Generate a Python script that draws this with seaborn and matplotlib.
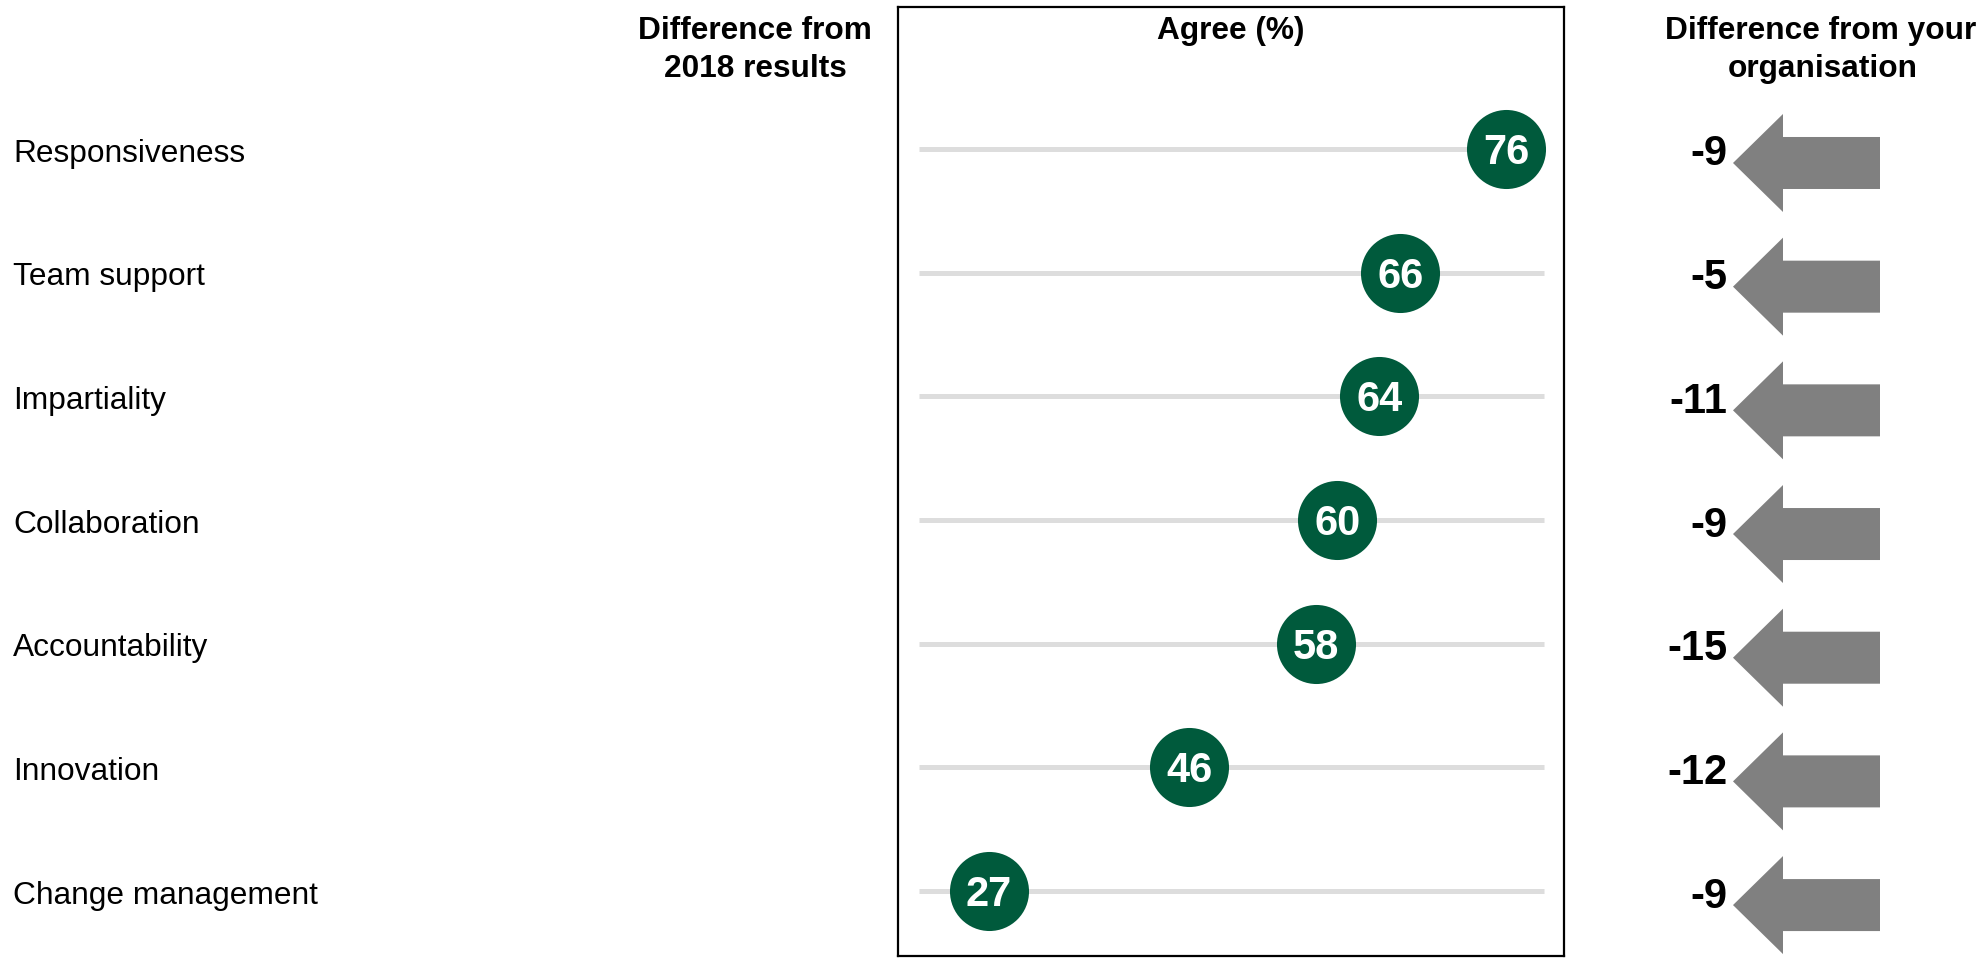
import matplotlib
matplotlib.use("Agg")
import matplotlib.pyplot as plt
import seaborn as sns
import pandas as pd
from matplotlib import font_manager
from matplotlib.patches import Polygon
from matplotlib.transforms import blended_transform_factory, offset_copy

# datos
categorias = ["Responsiveness", "Team support", "Impartiality", "Collaboration",
              "Accountability", "Innovation", "Change management"]
agree = [76, 66, 64, 60, 58, 46, 27]
dif_organisation = [-9, -5, -11, -9, -15, -12, -9]

df = pd.DataFrame({"categoria": categorias, "agree": agree,
                   "dif": dif_organisation, "fila": range(len(categorias))})

sns.set_style("white")
nombres = {f.name for f in font_manager.fontManager.ttflist}
regular = "Liberation Sans" if "Liberation Sans" in nombres else "DejaVu Sans"
narrow = "Liberation Sans Narrow" if "Liberation Sans Narrow" in nombres else regular
plt.rcParams["font.family"] = [regular, "DejaVu Sans"]
plt.rcParams["text.color"] = "black"

W, H = 1988, 962
fig = plt.figure(figsize=(W / 100, H / 100), dpi=100)


def caja(x0, y0, x1, y1):
    return [x0 / W, 1 - y1 / H, (x1 - x0) / W, (y1 - y0) / H]


verde = "#005a3c"
gris_linea = "#dddddd"
gris_flecha = "#808080"
ylim = (6.525, -1.148)
px_fila = 949 / (ylim[0] - ylim[1])

# grafica central (puntos)
ax = fig.add_axes(caja(898, 8, 1564, 957))
ax.hlines(df["fila"], 20.4, 79.6, color=gris_linea, lw=3.6, zorder=1)
sns.scatterplot(data=df, x="agree", y="fila", ax=ax, s=3240, color=verde,
                linewidth=0, zorder=3, legend=False)
ax.set_xlim(18.37, 81.5)
ax.set_ylim(*ylim)
ax.set_xticks([])
ax.set_yticks([])
ax.set_xlabel("")
ax.set_ylabel("")
for sp in ax.spines.values():
    sp.set_visible(True)
    sp.set_color("black")
    sp.set_linewidth(1.6)

t_num = offset_copy(ax.transData, fig=fig, y=-14, units="dots")
for _, r in df.iterrows():
    ax.text(r["agree"], r["fila"], str(r["agree"]), transform=t_num,
            ha="center", va="baseline", color="white", fontsize=30,
            fontweight="bold", family=[narrow, regular], zorder=4)

# etiquetas de la izquierda
t_lab = offset_copy(blended_transform_factory(fig.transFigure, ax.transData),
                    fig=fig, y=-11.7, units="dots")
for _, r in df.iterrows():
    ax.text(13 / W, r["fila"], r["categoria"], transform=t_lab,
            ha="left", va="baseline", fontsize=22.8, color="black", clip_on=False)

# flechas de la derecha
ax_r = fig.add_axes(caja(1600, 8, 1988, 957))
ax_r.set_xlim(1600, 1988)
ax_r.set_ylim(*ylim)
ax_r.axis("off")
for _, r in df.iterrows():
    c = r["fila"] + 14 / px_fila
    h1 = 26 / px_fila
    h2 = 49 / px_fila
    pts = [(1733, c), (1783, c - h2), (1783, c - h1), (1880, c - h1),
           (1880, c + h1), (1783, c + h1), (1783, c + h2)]
    ax_r.add_patch(Polygon(pts, closed=True, color=gris_flecha, lw=0))

t_dif = offset_copy(ax_r.transData, fig=fig, y=-15.5, units="dots")
for _, r in df.iterrows():
    ax_r.text(1727, r["fila"], f"{r['dif']}", transform=t_dif, ha="right",
              va="baseline", fontsize=30, fontweight="bold",
              family=[narrow, regular], color="black")

# titulos
fig.text(755 / W, 1 - 39 / H, "Difference from", ha="center", va="baseline",
         fontsize=22.8, fontweight="bold", color="black")
fig.text(755 / W, 1 - 77 / H, "2018 results", ha="center", va="baseline",
         fontsize=22.8, fontweight="bold", color="black")
fig.text(1231 / W, 1 - 39 / H, "Agree (%)", ha="center", va="baseline",
         fontsize=22.8, fontweight="bold", color="black")
fig.text(1821 / W, 1 - 39 / H, "Difference from your", ha="center", va="baseline",
         fontsize=22.8, fontweight="bold", color="black")
fig.text(1823 / W, 1 - 77 / H, "organisation", ha="center", va="baseline",
         fontsize=22.8, fontweight="bold", color="black")

fig.savefig("out.png", dpi=100)
